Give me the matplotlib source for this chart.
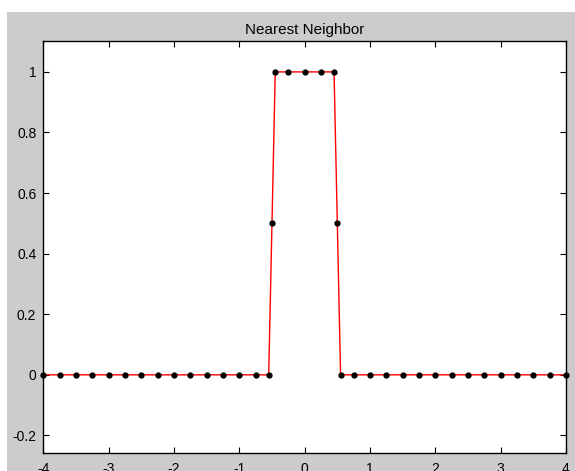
import matplotlib
matplotlib.use('Agg')
import matplotlib.pyplot as plt
from matplotlib.patches import Rectangle

# sample positions and values of the nearest neighbour kernel
x = [-4.0, -3.75, -3.5, -3.25, -3.0, -2.75, -2.5, -2.25, -2.0, -1.75,
     -1.5, -1.25, -1.0, -0.75, -0.55, -0.5, -0.45, -0.25, 0.0, 0.25,
     0.45, 0.5, 0.55, 0.75, 1.0, 1.25, 1.5, 1.75, 2.0, 2.25,
     2.5, 2.75, 3.0, 3.25, 3.5, 3.75, 4.0]
y = [0, 0, 0, 0, 0, 0, 0, 0, 0, 0,
     0, 0, 0, 0, 0, 0.5, 1, 1, 1, 1,
     1, 0.5, 0, 0, 0, 0, 0, 0, 0, 0,
     0, 0, 0, 0, 0, 0, 0]

xticks = [-4, -3, -2, -1, 0, 1, 2, 3, 4]
yticks = [-0.2, 0, 0.2, 0.4, 0.6, 0.8, 1]
ytick_labels = ['-0.2', '0', '0.2', '0.4', '0.6', '0.8', '1']

plt.rcParams['font.family'] = ['Liberation Sans', 'DejaVu Sans']

fig = plt.figure(figsize=(5.75, 4.71), dpi=100, facecolor='white')
# grey figure background, with a thin white strip on top and left
fig.patches.append(Rectangle((7 / 575, 0), 1, (471 - 12) / 471,
                             transform=fig.transFigure, facecolor='#cccccc',
                             edgecolor='none', zorder=-10))

ax = fig.add_axes([43.3 / 575, 18.3 / 471, (566 - 43.3) / 575, (452.7 - 40.7) / 471])
ax.set_facecolor('white')

ax.plot(x, y, color='red', linewidth=1.0, zorder=2)
ax.plot(x, y, linestyle='none', marker='o', markersize=3.5,
        markerfacecolor='black', markeredgecolor='black', zorder=3, clip_on=False)

ax.set_xlim(-4, 4)
ax.set_ylim(-0.257, 1.103)
ax.set_xticks(xticks)
ax.set_xticklabels([str(t) for t in xticks])
ax.set_yticks(yticks)
ax.set_yticklabels(ytick_labels)

ax.tick_params(direction='in', length=4, width=0.8, labelsize=10,
               top=True, right=True, colors='black')
ax.tick_params(axis='x', pad=7)
ax.tick_params(axis='y', pad=5)
for s in ax.spines.values():
    s.set_linewidth(1.0)
    s.set_color('black')

ax.set_title('Nearest Neighbor', fontsize=11, pad=5, color='black')

fig.savefig('out.png', dpi=100, facecolor=fig.get_facecolor())
